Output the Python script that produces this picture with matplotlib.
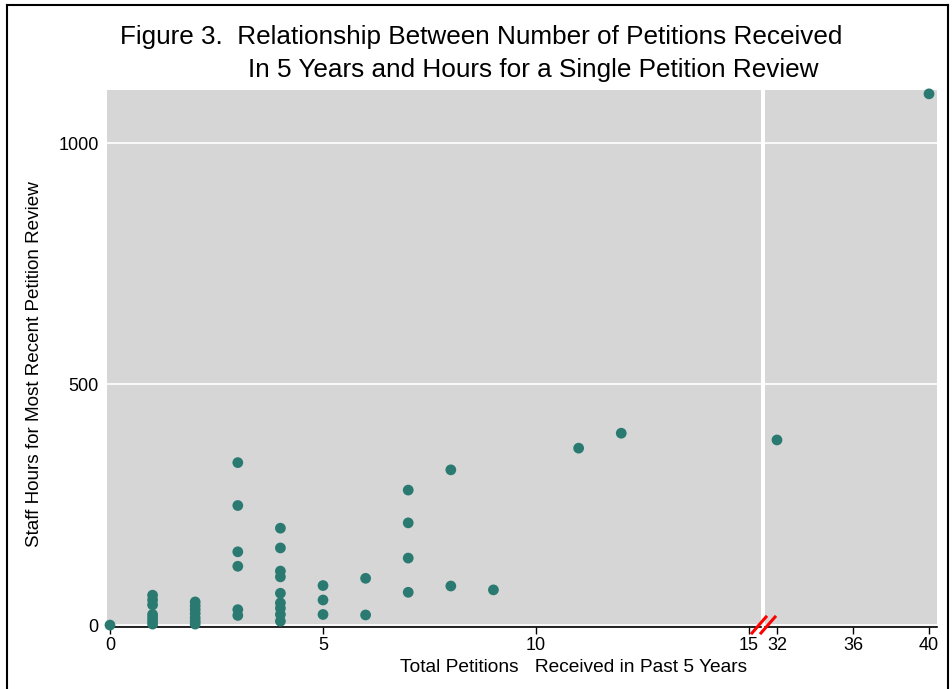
import numpy as np
import matplotlib.pyplot as plt
from matplotlib.lines import Line2D

plt.rcParams["font.family"] = ["Liberation Sans", "DejaVu Sans"]

# petitions received (x) vs staff hours (y), left segment 0-15
petitions = [0,
             1, 1, 1, 1, 1, 1, 1,
             2, 2, 2, 2, 2, 2, 2,
             3, 3, 3, 3, 3, 3,
             4, 4, 4, 4, 4, 4, 4, 4, 4,
             5, 5, 5,
             6, 6,
             7, 7, 7, 7,
             8, 8,
             9,
             11,
             12]
hours = [0,
         62, 52, 42, 22, 15, 8, 2,
         48, 40, 32, 24, 15, 8, 2,
         337, 248, 152, 122, 32, 20,
         201, 160, 112, 100, 66, 46, 35, 22, 8,
         82, 52, 22,
         97, 21,
         280, 212, 139, 68,
         322, 81,
         73,
         367,
         398]

# right segment after the axis break
petitions_far = [32, 40]
hours_far = [384, 1102]

yticks = [0, 500, 1000]
xticks_left = [0, 5, 10, 15]
xticks_right = [32, 36, 40]

W, H = 953, 689
fig = plt.figure(figsize=(W / 100, H / 100), dpi=100)

bg = "#d6d6d6"
teal = "#2b7a71"

def px_box(x0, x1, y_top, y_bot):
    return [x0 / W, 1 - y_bot / H, (x1 - x0) / W, (y_bot - y_top) / H]

ax1 = fig.add_axes(px_box(107, 761, 90, 627))
ax2 = fig.add_axes(px_box(765, 937, 90, 627))

for ax in (ax1, ax2):
    ax.set_facecolor(bg)
    ax.set_ylim(-4, 1110)
    for y in yticks:
        ax.axhline(y, color="white", lw=1.2, zorder=1)
    for s in ("top", "right", "left"):
        ax.spines[s].set_visible(False)
    ax.spines["bottom"].set_color("black")
    ax.spines["bottom"].set_linewidth(1.2)
    ax.tick_params(axis="x", direction="out", length=5, width=1,
                   labelsize=13, pad=2)
    ax.tick_params(axis="y", length=0, labelsize=13, pad=6)

ax1.scatter(petitions, hours, s=60, color=teal, zorder=3, clip_on=False,
            edgecolors="none")
ax2.scatter(petitions_far, hours_far, s=60, color=teal, zorder=3,
            clip_on=False, edgecolors="none")

ax1.set_xlim(-0.07, 15.28)
ax1.set_xticks(xticks_left)
ax1.set_yticks(yticks)
ax2.set_xlim(31.37, 40.42)
ax2.set_xticks(xticks_right)
ax2.set_yticks([])

# axis break marks
for dx in (0, 9):
    fig.add_artist(Line2D([(752 + dx) / W, (766 + dx) / W],
                          [1 - 633 / H, 1 - 617 / H],
                          color="red", lw=2.2))

fig.text(481 / W, 1 - 37 / H,
         "Figure 3.  Relationship Between Number of Petitions Received",
         ha="center", va="center", fontsize=18.8)
fig.text(533 / W, 1 - 70 / H,
         "In 5 Years and Hours for a Single Petition Review",
         ha="center", va="center", fontsize=18.8)
fig.text(574 / W, 1 - 668 / H, "Total Petitions   Received in Past 5 Years",
         ha="center", va="center", fontsize=13.8)
fig.text(35 / W, 1 - 364 / H, "Staff Hours for Most Recent Petition Review",
         ha="center", va="center", rotation=90, fontsize=13.6)

# outer frame
for xs, ys in [([7, 7], [5, 689]), ([7, 948], [5, 5]), ([948, 948], [5, 689])]:
    fig.add_artist(Line2D([x / W for x in xs], [1 - y / H for y in ys],
                          color="black", lw=1.5))

fig.savefig("out.png", dpi=100)
